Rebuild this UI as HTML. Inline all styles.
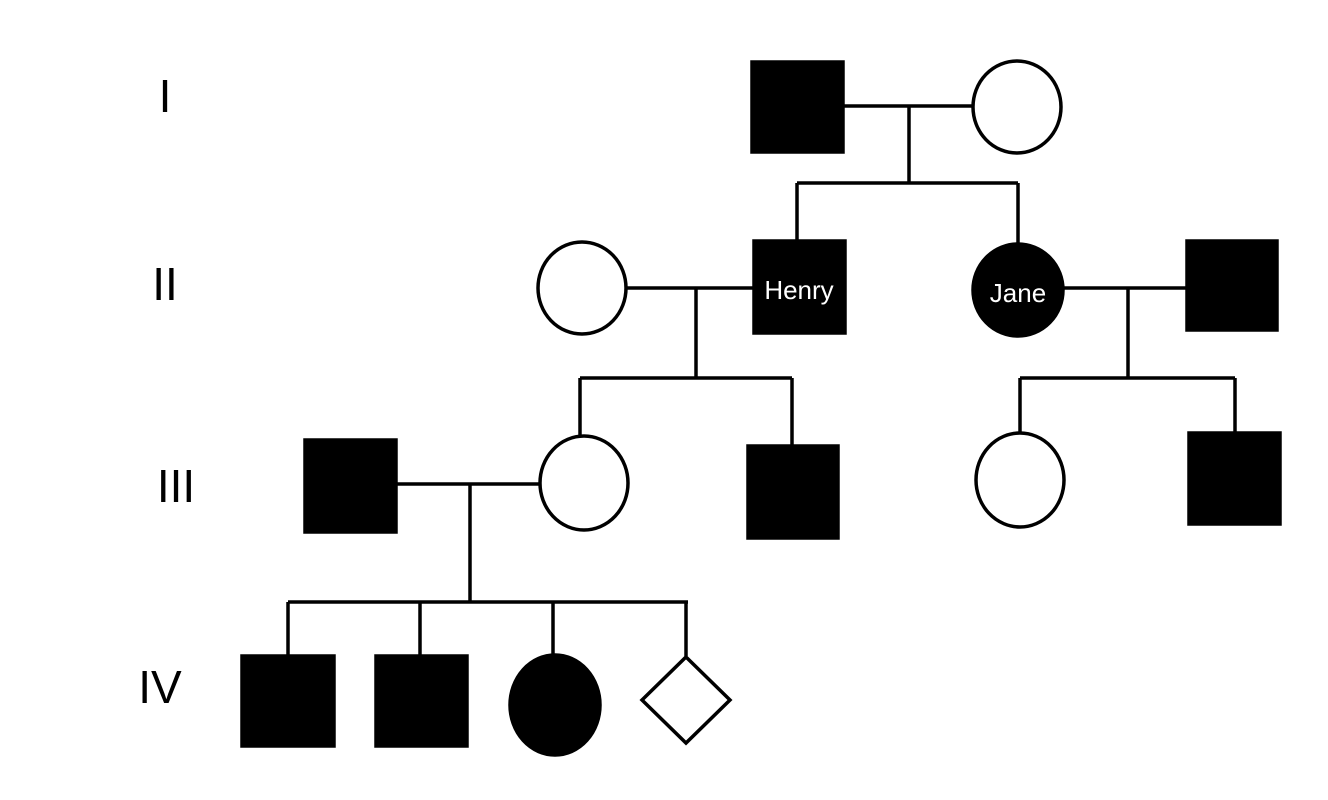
<!DOCTYPE html>
<html><head><meta charset="utf-8"><style>
html,body{margin:0;padding:0;background:#fff;}
svg{display:block;}
</style></head><body>
<svg width="1328" height="800" viewBox="0 0 1328 800" xmlns="http://www.w3.org/2000/svg">
<rect width="1328" height="800" fill="#fff"/>
<g font-family="Liberation Sans, sans-serif" font-size="46" fill="#000" text-anchor="middle">
<text x="165" y="112">I</text>
<text x="165" y="300">II</text>
<text x="176" y="502">III</text>
<text x="160" y="703">IV</text>
</g>
<g stroke="#000" stroke-width="3.5" fill="none">
<!-- Gen I -->
<line x1="843" y1="106" x2="973" y2="106"/>
<line x1="909" y1="106" x2="909" y2="183"/>
<line x1="797" y1="183" x2="1018" y2="183"/>
<line x1="797" y1="183" x2="797" y2="241"/>
<line x1="1018" y1="183" x2="1018" y2="245"/>
<!-- Gen II -->
<line x1="626" y1="288" x2="754" y2="288"/>
<line x1="696" y1="288" x2="696" y2="378"/>
<line x1="580" y1="378" x2="792" y2="378"/>
<line x1="580" y1="378" x2="580" y2="436"/>
<line x1="792" y1="378" x2="792" y2="446"/>
<line x1="1064" y1="288" x2="1187" y2="288"/>
<line x1="1128" y1="288" x2="1128" y2="378"/>
<line x1="1020" y1="378" x2="1235" y2="378"/>
<line x1="1020" y1="378" x2="1020" y2="434"/>
<line x1="1235" y1="378" x2="1235" y2="433"/>
<!-- Gen III -->
<line x1="396" y1="484" x2="540" y2="484"/>
<line x1="470" y1="484" x2="470" y2="602"/>
<line x1="288" y1="602" x2="688" y2="602"/>
<line x1="288" y1="602" x2="288" y2="656"/>
<line x1="420" y1="602" x2="420" y2="656"/>
<line x1="553" y1="602" x2="553" y2="656"/>
<line x1="686" y1="602" x2="686" y2="656"/>
</g>
<!-- shapes -->
<g stroke="#000" stroke-width="3.5">
<rect x="752" y="62" width="91" height="90" fill="#000"/>
<ellipse cx="1017" cy="107" rx="44" ry="46" fill="#fff"/>
<ellipse cx="582" cy="288" rx="44" ry="46" fill="#fff"/>
<rect x="754" y="241" width="91" height="92" fill="#000"/>
<ellipse cx="1018" cy="290" rx="45" ry="46" fill="#000"/>
<rect x="1187" y="241" width="90" height="89" fill="#000"/>
<rect x="305" y="440" width="91" height="92" fill="#000"/>
<ellipse cx="584" cy="483" rx="44" ry="47" fill="#fff"/>
<rect x="748" y="446" width="90" height="92" fill="#000"/>
<ellipse cx="1020" cy="480" rx="44" ry="47" fill="#fff"/>
<rect x="1189" y="433" width="91" height="91" fill="#000"/>
<rect x="242" y="656" width="92" height="90" fill="#000"/>
<rect x="376" y="656" width="91" height="90" fill="#000"/>
<ellipse cx="555" cy="705" rx="45" ry="50" fill="#000"/>
<polygon points="686,657 730,700 686,743 642,700" fill="#fff"/>
</g>
<g font-family="Liberation Sans, sans-serif" font-size="26" fill="#fff" text-anchor="middle">
<text x="799" y="299">Henry</text>
<text x="1018" y="302">Jane</text>
</g>
</svg>
</body></html>
